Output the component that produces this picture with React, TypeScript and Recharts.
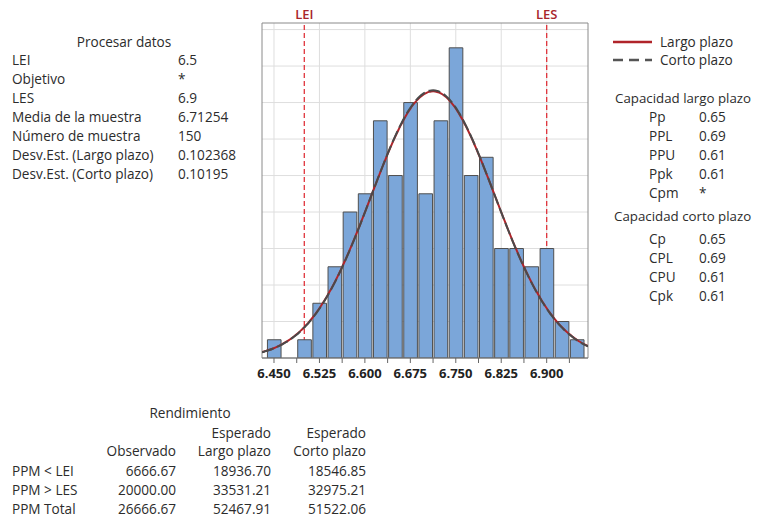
import React from 'react';
import { ComposedChart, Bar, Line, XAxis, YAxis, ReferenceLine, ReferenceArea } from 'recharts';

// ---- data ----
const binCenters = [6.45, 6.475, 6.5, 6.525, 6.55, 6.575, 6.6, 6.625, 6.65, 6.675, 6.7, 6.725, 6.75, 6.775, 6.8, 6.825, 6.85, 6.875, 6.9, 6.925, 6.95];
const binCounts = [1, 0, 1, 3, 5, 8, 9, 13, 10, 14, 9, 13, 17, 10, 11, 6, 6, 5, 6, 2, 1];
const xTicks = [6.45, 6.4875, 6.525, 6.5625, 6.6, 6.6375, 6.675, 6.7125, 6.75, 6.7875, 6.825, 6.8625, 6.9, 6.9375];
const majorTicks = [6.45, 6.525, 6.6, 6.675, 6.75, 6.825, 6.9];
const yGrid = [2, 4, 6, 8, 10, 12, 14, 16, 18];
const specLimits = [{ label: 'LEI', value: 6.5 }, { label: 'LES', value: 6.9 }];

const sampleMean = 6.71254;
const sdLong = 0.102368;
const sdShort = 0.10195;
const sampleN = 150;
const binWidth = 0.025;

const processLabels = ['LEI', 'Objetivo', 'LES', 'Media de la muestra', 'Número de muestra', 'Desv.Est. (Largo plazo)', 'Desv.Est. (Corto plazo)'];
const processValues = ['6.5', '*', '6.9', '6.71254', '150', '0.102368', '0.10195'];
const capLongLabels = ['Pp', 'PPL', 'PPU', 'Ppk', 'Cpm'];
const capLongValues = ['0.65', '0.69', '0.61', '0.61', '*'];
const capShortLabels = ['Cp', 'CPL', 'CPU', 'Cpk'];
const capShortValues = ['0.65', '0.69', '0.61', '0.61'];
const perfRowLabels = ['PPM < LEI', 'PPM > LES', 'PPM Total'];
const perfObserved = ['6666.67', '20000.00', '26666.67'];
const perfExpLong = ['18936.70', '33531.21', '52467.91'];
const perfExpShort = ['18546.85', '32975.21', '51522.06'];

const X_MIN = 6.4302;
const X_MAX = 6.9682;
const Y_MAX = 18.36;

const bins = binCenters.map((x, i) => ({ x, count: binCounts[i] }));

// fitted normal curves (from the displayed mean and standard deviations)
const curve = (sd: number) => {
  const pts: { x: number; y: number }[] = [];
  const steps = 160;
  for (let i = 0; i <= steps; i++) {
    const x = X_MIN + ((X_MAX - X_MIN) * i) / steps;
    const z = (x - sampleMean) / sd;
    pts.push({ x, y: (sampleN * binWidth * Math.exp(-0.5 * z * z)) / (sd * Math.sqrt(2 * Math.PI)) });
  }
  return pts;
};
const longCurve = curve(sdLong);
const shortCurve = curve(sdShort);

const FONT = '"Open Sans", "Noto Sans", sans-serif';
const TXT = '#2c2c2c';

const T = ({ x, y, children, align = 'left', w = 200, size = 13.6 }: any) => {
  const style: React.CSSProperties = {
    position: 'absolute',
    top: y - 10,
    lineHeight: '20px',
    fontSize: size,
    fontFamily: FONT,
    color: TXT,
    whiteSpace: 'nowrap',
  };
  if (align === 'left') style.left = x;
  else if (align === 'right') { style.left = x - w; style.width = w; style.textAlign = 'right'; }
  else { style.left = x - w / 2; style.width = w; style.textAlign = 'center'; }
  return <div style={style}>{children}</div>;
};

const XTick = (props: any) => {
  const { x, y, payload } = props;
  const v = payload.value;
  const major = majorTicks.some((m) => Math.abs(m - v) < 1e-6);
  return (
    <g>
      <line x1={x} y1={y - 8} x2={x} y2={y - 3} stroke="#666" strokeWidth={1} />
      {major && (
        <text x={x} y={y + 12} textAnchor="middle" fontSize={13} fontWeight={700} fontFamily={FONT} fill="#222">
          {v.toFixed(3)}
        </text>
      )}
    </g>
  );
};

export default function App() {
  return (
    <div style={{ position: 'absolute', left: 0, top: 0, width: 758, height: 518, background: '#fff', overflow: 'hidden' }}>
      <div style={{ position: 'absolute', left: 0, top: 0 }}>
        <ComposedChart width={758} height={518} data={bins} margin={{ top: 23, left: 262, right: 170, bottom: 130 }}>
          <XAxis
            xAxisId="bins"
            dataKey="x"
            type="number"
            domain={[X_MIN, X_MAX]}
            allowDataOverflow
            ticks={xTicks}
            interval={0}
            height={30}
            tickLine={false}
            axisLine={{ stroke: '#777' }}
            tick={<XTick />}
          />
          <XAxis xAxisId="curve" dataKey="x" type="number" domain={[X_MIN, X_MAX]} allowDataOverflow hide />
          <YAxis hide type="number" domain={[0, Y_MAX]} allowDataOverflow />
          {yGrid.map((g) => (
            <ReferenceLine key={'h' + g} xAxisId="bins" y={g} stroke="#dedede" strokeWidth={1} zIndex={-50} />
          ))}
          {majorTicks.map((g) => (
            <ReferenceLine key={'v' + g} xAxisId="bins" x={g} stroke="#dedede" strokeWidth={1} zIndex={-50} />
          ))}
          {specLimits.map((s) => (
            <ReferenceLine
              key={s.label}
              xAxisId="bins"
              x={s.value}
              stroke="#e0343c"
              strokeWidth={1.3}
              strokeDasharray="5 3"
              zIndex={-40}
              label={{ value: s.label, position: 'top', offset: 4, fill: '#a8262c', fontSize: 13, fontWeight: 600, fontFamily: FONT }}
            />
          ))}
          <Bar xAxisId="bins" dataKey="count" fill="#7ba6d9" stroke="#4f4f4f" strokeWidth={1} barSize={15.15} isAnimationActive={false} />
          <Line xAxisId="curve" data={longCurve} dataKey="y" type="monotone" stroke="#b0242a" strokeWidth={2} dot={false} isAnimationActive={false} />
          <Line xAxisId="curve" data={shortCurve} dataKey="y" type="monotone" stroke="#4a4a4a" strokeWidth={2} strokeDasharray="12 4" dot={false} isAnimationActive={false} />
          <ReferenceArea xAxisId="bins" x1={X_MIN} x2={X_MAX} y1={0} y2={Y_MAX} fill="none" fillOpacity={0} stroke="#8a8a8a" strokeWidth={1} />
        </ComposedChart>
      </div>

      {/* Procesar datos */}
      <T x={124} y={42} align="center">Procesar datos</T>
      {processLabels.map((l, i) => (
        <T key={l} x={12} y={60 + i * 19}>{l}</T>
      ))}
      {processValues.map((v, i) => (
        <T key={'pv' + i} x={178} y={60 + i * 19}>{v}</T>
      ))}

      {/* legend */}
      <svg style={{ position: 'absolute', left: 610, top: 34 }} width={46} height={34}>
        <line x1={3} y1={8} x2={42} y2={8} stroke="#b0242a" strokeWidth={2.5} />
        <line x1={3} y1={26} x2={42} y2={26} stroke="#555" strokeWidth={2.5} strokeDasharray="10 6" />
      </svg>
      <T x={660} y={42}>Largo plazo</T>
      <T x={660} y={60}>Corto plazo</T>

      {/* capacidad */}
      <T x={615} y={98} size={13.3}>Capacidad largo plazo</T>
      {capLongLabels.map((l, i) => (
        <T key={l} x={649} y={117 + i * 19}>{l}</T>
      ))}
      {capLongValues.map((v, i) => (
        <T key={'clv' + i} x={699} y={117 + i * 19}>{v}</T>
      ))}
      <T x={614} y={216} size={13.3}>Capacidad corto plazo</T>
      {capShortLabels.map((l, i) => (
        <T key={l} x={649} y={239 + i * 19}>{l}</T>
      ))}
      {capShortValues.map((v, i) => (
        <T key={'csv' + i} x={699} y={239 + i * 19}>{v}</T>
      ))}

      {/* rendimiento */}
      <T x={190} y={413} align="center">Rendimiento</T>
      <T x={271} y={433} align="right">Esperado</T>
      <T x={366} y={433} align="right">Esperado</T>
      <T x={176} y={451} align="right">Observado</T>
      <T x={271} y={451} align="right">Largo plazo</T>
      <T x={366} y={451} align="right">Corto plazo</T>
      {perfRowLabels.map((l, i) => (
        <T key={l} x={12} y={471 + i * 19}>{l}</T>
      ))}
      {perfObserved.map((v, i) => (
        <T key={'o' + i} x={176} y={471 + i * 19} align="right">{v}</T>
      ))}
      {perfExpLong.map((v, i) => (
        <T key={'l' + i} x={271} y={471 + i * 19} align="right">{v}</T>
      ))}
      {perfExpShort.map((v, i) => (
        <T key={'s' + i} x={366} y={471 + i * 19} align="right">{v}</T>
      ))}
    </div>
  );
}
